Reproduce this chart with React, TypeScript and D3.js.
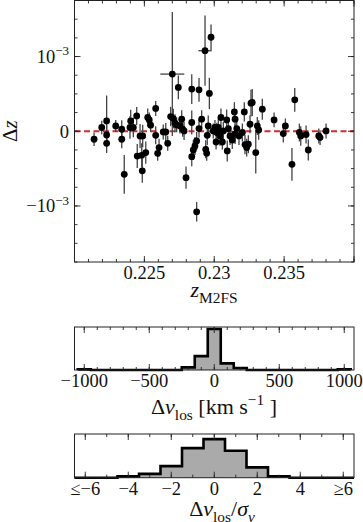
import { useEffect, useRef } from 'react';
import * as d3 from 'd3';

// redshift of each galaxy (M2FS) and offset Delta z, in units of 1e-4
const Z_M2FS = [
  0.2214, 0.22195, 0.2223, 0.2223, 0.2223, 0.22295, 0.22338, 0.22338, 0.22356, 0.22397,
  0.22402, 0.22421, 0.22445, 0.22449, 0.22469, 0.22481, 0.22488, 0.22485, 0.2251, 0.22524,
  0.22535, 0.22545, 0.22581, 0.22581, 0.22595, 0.22605, 0.22635, 0.22653, 0.22667, 0.22688,
  0.227, 0.22707, 0.22719, 0.22743, 0.22731, 0.22755, 0.22767, 0.22774, 0.22784, 0.22798,
  0.22839, 0.22839, 0.22839, 0.2285, 0.22862, 0.22874, 0.22891, 0.22891, 0.2291, 0.22934,
  0.22939, 0.22946, 0.2295, 0.22957, 0.22965, 0.22977, 0.22993, 0.23005, 0.23013, 0.23018,
  0.23029, 0.23041, 0.23048, 0.23058, 0.23065, 0.23089, 0.23093, 0.23101, 0.23113, 0.23129,
  0.23144, 0.23149, 0.23149, 0.23161, 0.23177, 0.23201, 0.23215, 0.2322, 0.23232, 0.23244,
  0.23256, 0.23263, 0.23272, 0.23297, 0.23308, 0.23318, 0.23344, 0.23428, 0.23494, 0.23509,
  0.23556, 0.23576, 0.23609, 0.23619, 0.23657, 0.23673, 0.23748, 0.23757, 0.238, 0.22874,
];
const DZ_E4 = [
  -1.07, 0.5, 1.38, -0.5, -1.61, 0.71, 0.27, -1.07, -5.77, 0.5,
  1.38, 0.5, 2.05, -3.32, -0.63, -3.22, -0.63, -5.3, -2.86, 1.84,
  1.52, 0.81, 3.05, -0.54, -2.95, -2.19, -0.09, -0.1, -1.61, 1.97,
  7.65, 1.7, 1.07, 5.87, 0.85, 0.71, 1.61, 0.27, 0.04, -6.21,
  5.64, 1.17, -3.4, -2.51, -1.97, -1.3, 5.54, 0.36, 1.61, 10.78,
  -2.42, -2.95, -0.54, 0.71, 5.06, 12.58, 0.04, 0.5, -1.44, -0.17,
  0.5, -0.63, 1.84, -1.44, 0.04, 1.52, -2.64, 0.36, -0.63, -1.17,
  2.59, 1.61, -0.4, 0.36, -0.63, -0.17, 2.59, -1.79, -2.19, -1.74,
  0.94, 3.76, 3.85, -2.86, 0.71, 0.17, 2.95, 1.52, -0.31, 0.71,
  -4.43, 4.2, -0.17, -0.63, -0.44, -2.51, -0.63, -0.85, 0.04, -10.78,
];
const DZ_ERR_E4 = [
  0.9, 0.9, 3.4, 1.3, 1.3, 0.8, 1.2, 1.2, 2.6, 1.5,
  1.5, 1.3, 1.2, 1.6, 1.6, 1.6, 1.5, 1.6, 1.5, 1.2,
  1.0, 0.9, 1.0, 1.2, 1.0, 1.2, 1.0, 1.2, 1.0, 1.3,
  8.3, 1.3, 1.2, 1.6, 1.0, 1.0, 1.2, 1.0, 1.2, 1.5,
  2.0, 1.6, 1.3, 1.3, 1.2, 1.2, 1.6, 1.2, 1.2, 4.7,
  1.2, 1.0, 1.3, 1.4, 2.1, 1.7, 1.0, 1.0, 1.0, 1.3,
  1.2, 1.3, 1.2, 1.0, 1.2, 1.4, 1.4, 1.2, 1.2, 1.2,
  1.3, 1.2, 1.3, 1.2, 1.2, 1.2, 1.3, 1.3, 1.2, 1.2,
  1.2, 1.8, 1.8, 2.8, 1.2, 1.3, 1.4, 1.0, 1.2, 1.0,
  2.2, 1.6, 1.2, 1.3, 1.2, 1.4, 1.0, 1.0, 1.0, 1.3,
];
// only two objects have a visible error on z
const Z_ERR: Record<number, number> = { 30: 0.00086, 49: 0.00048 };

const Z_TICKS = [0.225, 0.23, 0.235];
const Z_TICK_LABELS = ['0.225', '0.23', '0.235'];
const DZ_TICKS = [-1e-3, 0, 1e-3];

// histogram of velocity offsets (bin centres, km/s)
const DV_CENTERS = d3.range(-1000, 1001, 100);
const DV_COUNTS = [1, 0, 0, 0, 0, 0, 0, 0, 4, 21, 62, 10, 3, 0, 0, 0, 0, 0, 0, 0, 1];
const DV_TICKS = [-1000, -500, 0, 500, 1000];
const DV_TICK_LABELS = ['\u22121000', '\u2212500', '0', '500', '1000'];

// histogram of normalised offsets
const NS_CENTERS = d3.range(-6, 7, 1);
const NS_COUNTS = [0, 0, 1, 3, 9, 23, 30, 21, 8, 1, 0, 0, 0];
const NS_TICKS = [-6, -4, -2, 0, 2, 4, 6];
const NS_TICK_LABELS = ['\u2264\u22126', '\u22124', '\u22122', '0', '2', '4', '\u22656'];

type Seg = { t: string; it?: boolean; sub?: boolean; sup?: boolean };

const FONT = "'Liberation Serif', 'DejaVu Serif', serif";

function label(g: any, x: number, y: number, size: number, anchor = 'middle') {
  return g.append('text')
    .attr('x', x).attr('y', y)
    .attr('text-anchor', anchor)
    .attr('font-size', size)
    .style('font-family', FONT)
    .attr('fill', '#111');
}

function mathText(sel: any, segs: Seg[], size: number) {
  let shift = 0;
  segs.forEach((s) => {
    const target = s.sub ? size * 0.28 : s.sup ? -size * 0.42 : 0;
    sel.append('tspan')
      .attr('dy', target - shift)
      .attr('font-size', s.sub || s.sup ? size * 0.7 : size)
      .attr('font-style', s.it ? 'italic' : 'normal')
      .text(s.t);
    shift = target;
  });
}

function frame(g: any, x: any, y: any, xMaj: number[], xMin: number[], yMaj: number[], yMin: number[]) {
  const [x0, x1] = x.range();
  const [y0, y1] = y.range(); // y0 bottom, y1 top
  const tick = (xa: number, ya: number, xb: number, yb: number) =>
    g.append('line').attr('x1', xa).attr('y1', ya).attr('x2', xb).attr('y2', yb)
      .attr('stroke', '#222').attr('stroke-width', 0.9);
  xMin.forEach((v) => { tick(x(v), y0, x(v), y0 - 3); tick(x(v), y1, x(v), y1 + 3); });
  xMaj.forEach((v) => { tick(x(v), y0, x(v), y0 - 6); tick(x(v), y1, x(v), y1 + 6); });
  yMin.forEach((v) => { tick(x0, y(v), x0 + 3, y(v)); tick(x1, y(v), x1 - 3, y(v)); });
  yMaj.forEach((v) => { tick(x0, y(v), x0 + 6, y(v)); tick(x1, y(v), x1 - 6, y(v)); });
  g.append('rect').attr('x', x0).attr('y', y1).attr('width', x1 - x0).attr('height', y0 - y1)
    .attr('fill', 'none').attr('stroke', '#222').attr('stroke-width', 1);
}

function histogram(g: any, x: any, y: any, centers: number[], counts: number[], width: number) {
  const pts: [number, number][] = [[centers[0] - width / 2, 0]];
  centers.forEach((c, i) => pts.push([c - width / 2, counts[i]]));
  pts.push([centers[centers.length - 1] + width / 2, 0]);
  const line = d3.line<[number, number]>().x((d) => x(d[0])).y((d) => y(d[1])).curve(d3.curveStepAfter);
  g.append('path').attr('d', line(pts) + 'Z').attr('fill', '#aaaaaa').attr('stroke', 'none');
  g.append('path').attr('d', line(pts)).attr('fill', 'none').attr('stroke', '#000')
    .attr('stroke-width', 2.6).attr('stroke-linejoin', 'miter');
}

export default function App() {
  const svgRef = useRef<SVGSVGElement>(null);

  useEffect(() => {
    if (!svgRef.current) return;
    const svg = d3.select(svgRef.current);
    svg.selectAll('*').remove();
    const g = svg.append('g');

    // === main panel: Delta z vs z ===
    const x = d3.scaleLinear().domain([0.22, 0.24]).range([74.5, 354]);
    const y = d3.scaleLinear().domain([-1.75e-3, 1.75e-3]).range([262, 0.5]);

    g.append('line')
      .attr('x1', x(0.22)).attr('x2', x(0.24)).attr('y1', y(0)).attr('y2', y(0))
      .attr('stroke', '#d62a2a').attr('stroke-width', 2).attr('stroke-dasharray', '6,3.5');

    Z_M2FS.forEach((z, i) => {
      const dz = DZ_E4[i] * 1e-4;
      const e = DZ_ERR_E4[i] * 1e-4;
      g.append('line')
        .attr('x1', x(z)).attr('x2', x(z)).attr('y1', y(dz - e)).attr('y2', y(dz + e))
        .attr('stroke', '#444').attr('stroke-width', 1.3);
      if (Z_ERR[i]) {
        g.append('line')
          .attr('x1', x(z - Z_ERR[i])).attr('x2', x(z + Z_ERR[i])).attr('y1', y(dz)).attr('y2', y(dz))
          .attr('stroke', '#444').attr('stroke-width', 1.3);
      }
    });
    Z_M2FS.forEach((z, i) => {
      g.append('circle').attr('cx', x(z)).attr('cy', y(DZ_E4[i] * 1e-4)).attr('r', 3.4).attr('fill', '#000');
    });

    frame(g, x, y, d3.range(0.22, 0.2401, 0.005), d3.range(0.22, 0.2401, 0.001),
      DZ_TICKS, d3.range(-1.75e-3, 1.76e-3, 0.25e-3));

    Z_TICKS.forEach((v, i) => {
      label(g, x(v), 279, 18.5).text(Z_TICK_LABELS[i]);
    });
    DZ_TICKS.forEach((v) => {
      const t = label(g, 69, y(v) + 6.5, 18.5, 'end');
      if (v === 0) mathText(t, [{ t: '0' }], 18.5);
      else mathText(t, [{ t: (v < 0 ? '\u2212' : '') + '10' }, { t: '\u22123', sup: true }], 18.5);
    });

    const xl = label(g, 214, 297, 22);
    mathText(xl, [{ t: 'z', it: true }, { t: 'M2FS', sub: true }], 22);
    const yl = label(g, 0, 0, 21).attr('transform', `translate(16.5, ${y(0)}) rotate(-90)`);
    mathText(yl, [{ t: '\u0394' }, { t: 'z', it: true }], 21);

    // === velocity offset histogram ===
    const xv = d3.scaleLinear().domain([-1075, 1075]).range([74.5, 354]);
    const yv = d3.scaleLinear().domain([0, 65]).range([370, 327]);
    histogram(g, xv, yv, DV_CENTERS, DV_COUNTS, 100);
    frame(g, xv, yv, DV_TICKS, d3.range(-1000, 1001, 100), [], []);
    DV_TICKS.forEach((v, i) => {
      label(g, xv(v), 387, 18.5).text(DV_TICK_LABELS[i]);
    });
    const vl = label(g, 214, 414, 22);
    mathText(vl, [
      { t: '\u0394' }, { t: 'v', it: true }, { t: 'los', sub: true },
      { t: '\u00a0[km\u00a0s' }, { t: '\u22121', sup: true }, { t: '\u00a0]' },
    ], 22);

    // === normalised offset histogram ===
    const xn = d3.scaleLinear().domain([-6.5, 6.5]).range([74.5, 354]);
    const yn = d3.scaleLinear().domain([0, 34]).range([477.7, 434]);
    histogram(g, xn, yn, NS_CENTERS, NS_COUNTS, 1);
    frame(g, xn, yn, NS_TICKS, d3.range(-6, 7, 1), [], []);
    NS_TICKS.forEach((v, i) => {
      label(g, xn(v), 495, 18.5).text(NS_TICK_LABELS[i]);
    });
    const nl = label(g, 222, 516, 22);
    mathText(nl, [
      { t: '\u0394' }, { t: 'v', it: true }, { t: 'los', sub: true }, { t: '/' },
      { t: '\u03c3', it: true }, { t: 'v', it: true, sub: true },
    ], 22);
  }, []);

  return (
    <svg
      ref={svgRef}
      width={363}
      height={522}
      style={{ position: 'absolute', left: 0, top: 0, background: '#fff' }}
    />
  );
}
